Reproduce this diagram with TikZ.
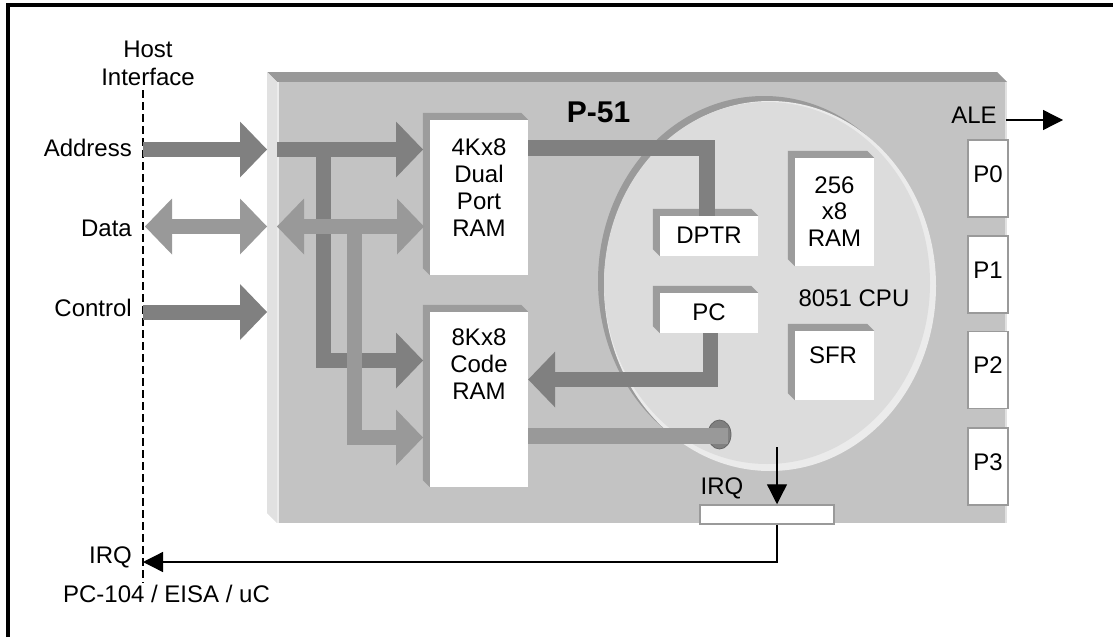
\documentclass[tikz,border=0pt]{standalone}
\usepackage{fontspec}
\setmainfont{Liberation Sans}
\usetikzlibrary{arrows.meta,shapes.geometric}
\definecolor{busdark}{HTML}{808080}
\definecolor{buslight}{HTML}{999999}
\definecolor{boardface}{HTML}{C3C3C3}
\definecolor{boardtop}{HTML}{999999}
\definecolor{boardleft}{HTML}{E1E1E1}
\definecolor{cpuface}{HTML}{DCDCDC}
\definecolor{cpudark}{HTML}{9A9A9A}
\definecolor{cpulight}{HTML}{EBEBEB}
\definecolor{bevelc}{HTML}{9C9C9C}
\definecolor{portedge}{HTML}{9A9A9A}
\newcommand\bevelof[2]{\fill[bevelc] (#1.south west) -- ++(-#2,-#2) |- ([shift={(-#2,-#2)}]#1.north east) -- (#1.north east) -- (#1.north west) -- cycle;}
\tikzset{
  bigtip/.tip={Triangle[length=27pt,width=56pt,line width=0pt]},
  smalltip/.tip={Triangle[length=20pt,width=20pt]},
  busA/.style={draw=busdark,line width=15pt},
  busD/.style={draw=buslight,line width=15pt},
  face/.style={rectangle,fill=white,draw=none,inner sep=0pt},
  portbox/.style={rectangle,fill=white,draw=portedge,line width=1.5pt,minimum width=40pt,minimum height=77pt,text height=17pt,text depth=10pt},
  thinarr/.style={draw=black,line width=1.3pt,-smalltip},
  txt/.style={inner sep=0pt,font=\fontsize{24}{27}\selectfont},
}
\begin{document}
\begin{tikzpicture}[x=1pt,y=-1pt]
\useasboundingbox (0,0) rectangle (1113,637);
% frame
\draw[line width=3.5pt] (8,637) -- (8,5) -- (1113,5);
% host side
\node[txt,align=center,font=\fontsize{24}{28}\selectfont] (host) at (148,63) {Host\\Interface};
\draw[line width=1.8pt,dash pattern=on 8pt off 4pt] (143,90) -- (143,583);
\node[txt,anchor=east] (laddr) at (132,148) {Address};
\node[txt,anchor=east] (ldata) at (132,228) {Data};
\node[txt,anchor=east] (lctrl) at (132,308) {Control};
\node[txt,anchor=east] (lirq) at (132,557) {IRQ};
\node[txt] (lbus) at (166.5,594) {PC-104 / EISA / uC};
% board
\fill[boardtop] (267,72) -- (997,72) -- (1007,82) -- (277,82) -- cycle;
\fill[boardleft] (267,72) -- (277,82) -- (277,523) -- (267,513) -- cycle;
\node[rectangle,fill=boardface,inner sep=0pt,minimum width=730pt,minimum height=441pt] (board) at (642,302.5) {};
\draw[white!85!gray,line width=1.5pt] (278,82) -- (278,523);
\draw[boardleft,line width=2pt] (1006,82) -- (1006,523);
\node[txt,font=\fontsize{30}{33}\selectfont\bfseries] (p51) at (598.5,112.5) {P-51};
% cpu
\fill[cpudark] (764,281) ellipse [x radius=166pt, y radius=185pt];
\fill[cpulight] (770,286) ellipse [x radius=166pt, y radius=185pt];
\node[ellipse,fill=cpuface,inner sep=0pt,minimum width=326pt,minimum height=362pt] (cpu) at (767,283) {};
\node[txt] (tcpu) at (854,298) {8051 CPU};
% boxes
\node[face,minimum width=98pt,minimum height=155pt] (r4k) at (479,197.5) {};
\bevelof{r4k}{7}
\node[face,minimum width=98pt,minimum height=175pt] (r8k) at (479,399.5) {};
\bevelof{r8k}{7}
\node[face,minimum width=98pt,minimum height=40pt] (dptr) at (709,236) {};
\bevelof{dptr}{7}
\node[face,minimum width=98pt,minimum height=40pt] (pc) at (709,313) {};
\bevelof{pc}{7}
\node[face,minimum width=79pt,minimum height=108pt] (ram) at (834.5,212) {};
\bevelof{ram}{7}
\node[face,minimum width=79pt,minimum height=69pt] (sfr) at (834.5,365.5) {};
\bevelof{sfr}{7}
\node[txt,align=center] (t4k) at (479,187.5) {4Kx8\\Dual\\Port\\RAM};
\node[txt,align=center] (t8k) at (479,364) {8Kx8\\Code\\RAM};
\node[txt] (tdptr) at (709,235) {DPTR};
\node[txt] (tpc) at (709,312) {PC};
\node[txt,align=center,font=\fontsize{24}{26.5}\selectfont] (tram) at (834.5,211.5) {256\\x8\\RAM};
\node[txt] (tsfr) at (833,355) {SFR};
% ports
\node[portbox,txt] (p0) at (988,178.5) {P0};
\node[portbox,txt] (p1) at (988,274.5) {P1};
\node[portbox,txt] (p2) at (988,370) {P2};
\node[portbox,txt] (p3) at (988,466.5) {P3};
\node[txt] (tale) at (974,115) {ALE};
\coordinate (aleS) at (1006,120);
\coordinate (aleE) at (1063,120);
\draw[thinarr] (aleS) -- (aleE);
% outside buses
\coordinate (aL) at (143,149.5); \coordinate (aR) at (267,149.5);
\coordinate (dL) at (145,226.5); \coordinate (dR) at (267,226.5);
\coordinate (cL) at (143,312);   \coordinate (cR) at (267,312);
\draw[busA,-bigtip] (aL) -- (aR);
\draw[busD,bigtip-bigtip] (dL) -- (dR);
\draw[busA,-bigtip] (cL) -- (cR);
% inside buses
\coordinate (aI) at (277,149.5); \coordinate (aT) at (423,149.5);
\coordinate (aB) at (323,149.5); \coordinate (aC) at (323,360.5); \coordinate (aT2) at (423,360.5);
\coordinate (dI) at (277,226.5); \coordinate (dT) at (424,226.5);
\coordinate (dB) at (354,226.5); \coordinate (dC) at (354,437.5); \coordinate (dT2) at (423,437.5);
\draw[busA,-bigtip] (aI) -- (aT);
\draw[busA,-bigtip] (aB) -- (aC) -- (aT2);
\draw[busD,-bigtip] (dB) -- (dC) -- (dT2);
\draw[busD,bigtip-bigtip] (dI) -- (dT);
% DPTR link
\coordinate (dp1) at (707,148);
\draw[busA,line width=16pt] (r4k.east |- dp1) -- (dp1) -- (dp1 |- dptr.north);
% PC link
\coordinate (pc1) at (710.5,379.5);
\draw[busA,-bigtip] (pc1 |- pc.south) -- (pc1) -- (r8k.east |- pc1);
% plug link
\node[ellipse,fill=busdark,draw=black!60,line width=0.8pt,inner sep=0pt,minimum width=23pt,minimum height=29pt] (plug) at (719.5,434.5) {};
\coordinate (pl1) at (728,436);
\draw[busD,line width=16pt] (r8k.east |- pl1) -- (pl1);
% IRQ
\node[rectangle,fill=white,draw=portedge,line width=1.5pt,inner sep=0pt,minimum width=134pt,minimum height=19pt] (irqbar) at (767,514.5) {};
\node[txt] (tirq) at (722,488) {IRQ};
\coordinate (irqtop) at (777,447);
\coordinate (irqc) at (777,562);
\coordinate (hostirq) at (143,562);
\draw[thinarr] (irqtop) -- (irqtop |- irqbar.north);
\draw[thinarr] (irqtop |- irqbar.south) -- (irqc) -- (hostirq);
\end{tikzpicture}
\end{document}
